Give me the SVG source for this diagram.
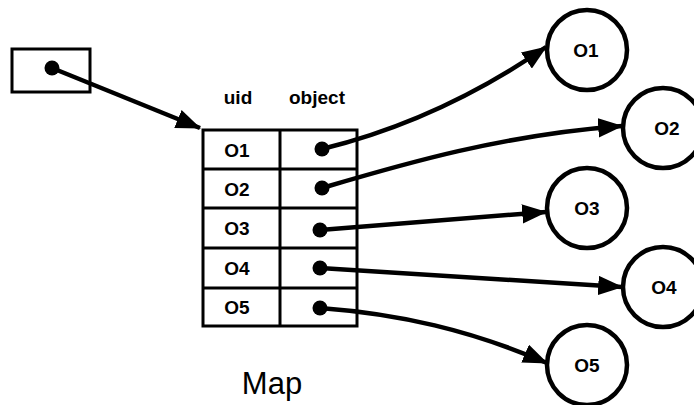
<svg xmlns="http://www.w3.org/2000/svg" width="694" height="405" viewBox="0 0 694 405">
<style>
text{font-family:"Liberation Sans",Arial,sans-serif;fill:#000}
.t{font-size:19px;font-weight:bold;text-anchor:middle}
.c{fill:none;stroke:#000;stroke-width:4.5}
.tb{fill:none;stroke:#000;stroke-width:3}
.ln{fill:none;stroke:#000;stroke-width:4.5;marker-end:url(#ah)}
.dot{fill:#000}
</style>
<defs>
<marker id="ah" markerUnits="userSpaceOnUse" markerWidth="26" markerHeight="20" refX="22" refY="9" orient="auto" viewBox="0 0 24 18">
<path d="M0,0 L23,9 L0,18 Z" fill="#000"/>
</marker>
</defs>
<rect width="694" height="405" fill="#fff"/>
<g id="pointer">
<rect class="tb" x="12" y="49" width="78" height="43"/>
<circle class="dot" cx="52" cy="68" r="7.5"/>
</g>
<g id="map">
<text class="t" x="238" y="104">uid</text>
<text class="t" x="317" y="104">object</text>
<rect class="tb" x="203" y="130" width="154" height="196"/>
<line class="tb" x1="280" y1="130" x2="280" y2="326"/>
<line class="tb" x1="203" y1="169" x2="357" y2="169"/>
<line class="tb" x1="203" y1="208" x2="357" y2="208"/>
<line class="tb" x1="203" y1="248" x2="357" y2="248"/>
<line class="tb" x1="203" y1="288" x2="357" y2="288"/>
<text class="t" x="237" y="157">O1</text>
<text class="t" x="237" y="196">O2</text>
<text class="t" x="237" y="235">O3</text>
<text class="t" x="237" y="275">O4</text>
<text class="t" x="237" y="314">O5</text>
<circle class="dot" cx="322" cy="149" r="7.5"/>
<circle class="dot" cx="322" cy="188" r="7.5"/>
<circle class="dot" cx="320" cy="230" r="7.5"/>
<circle class="dot" cx="320" cy="268" r="7.5"/>
<circle class="dot" cx="320" cy="308" r="7.5"/>
<text x="272" y="394" style="font-size:31px;text-anchor:middle">Map</text>
</g>
<g id="o1"><circle class="c" cx="587" cy="50" r="40"/><text class="t" x="586" y="57">O1</text></g>
<g id="o2"><circle class="c" cx="663" cy="128" r="40"/><text class="t" x="667" y="135">O2</text></g>
<g id="o3"><circle class="c" cx="587" cy="208" r="40"/><text class="t" x="587" y="215">O3</text></g>
<g id="o4"><circle class="c" cx="663" cy="287" r="40"/><text class="t" x="664" y="294">O4</text></g>
<g id="o5"><circle class="c" cx="587" cy="365" r="40"/><text class="t" x="587" y="372">O5</text></g>
<g id="connectors">
<path class="ln" d="M52,68 L200,128"/>
<path class="ln" d="M322,149 Q440,120 546,47"/>
<path class="ln" d="M322,188 C400,165 500,135 622,126"/>
<path class="ln" d="M320,230 L546,212"/>
<path class="ln" d="M320,268 L622,287"/>
<path class="ln" d="M320,308 C400,314 470,330 547,363"/>
</g>
</svg>
